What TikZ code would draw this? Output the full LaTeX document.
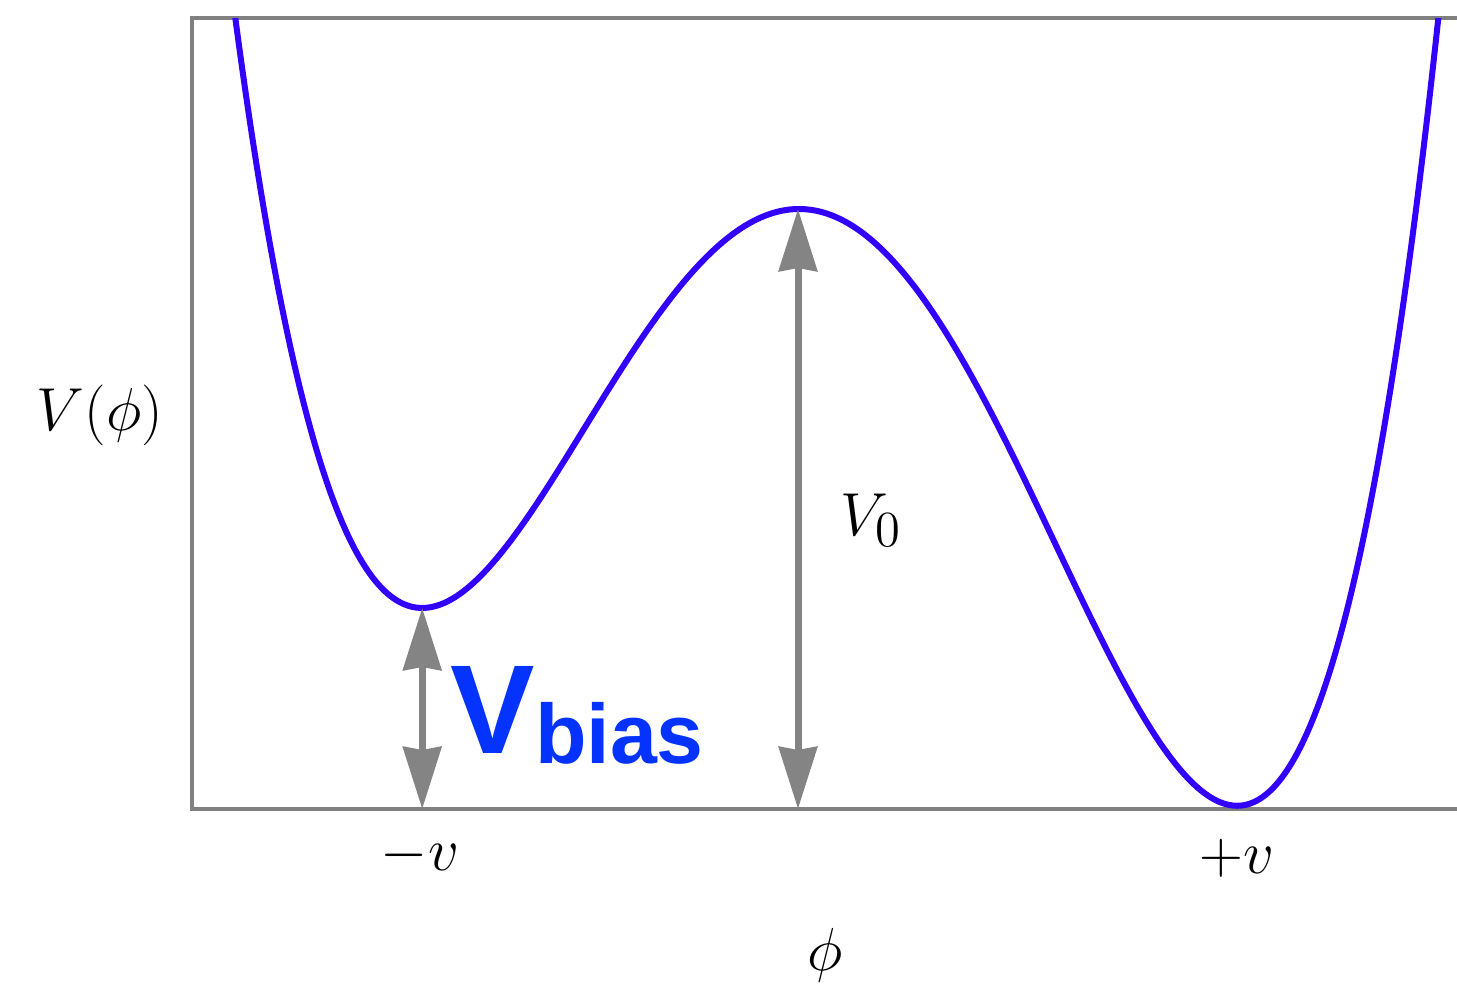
\documentclass[tikz,border=0pt]{standalone}
\usepackage{fontspec}
\newfontfamily\biasfont{Liberation Sans}
\usetikzlibrary{arrows.meta}
\definecolor{curveblue}{RGB}{50,0,255}
\definecolor{biasblue}{RGB}{4,51,255}
\definecolor{axisgray}{RGB}{128,128,128}
\definecolor{arrowgray}{RGB}{132,132,132}
\tikzset{
  axisline/.style={draw=axisgray, line width=0.045cm},
  potcurve/.style={draw=curveblue, line width=0.06cm, line join=round},
  gaparrow/.style={draw=arrowgray, line width=0.07cm,
    arrows={Stealth[length=6.2mm,width=3.8mm,inset=0.3mm]-Stealth[length=6.2mm,width=3.8mm,inset=0.3mm]}},
  mathlabel/.style={inner sep=0pt, anchor=base, font=\fontsize{19}{24}\selectfont},
  biaslabel/.style={inner sep=0pt, anchor=base west, text=biasblue, font=\biasfont\bfseries\fontsize{36}{40}\selectfont}
}
\begin{document}
\begin{tikzpicture}[x=1cm,y=1cm]
\useasboundingbox (0,0) rectangle (14.57,9.86);
% frame (open on the right)
\coordinate (tr) at (14.60,9.68);
\coordinate (tl) at (1.92,9.68);
\coordinate (bl) at (1.92,1.77);
\coordinate (br) at (14.60,1.77);
\draw[axisline] (tr) -- (tl) -- (bl) -- (br);
% potential curve
\begin{scope}
\clip (1.92,1.77) rectangle (14.57,9.68);
\draw[potcurve] plot[domain=-5.70:6.45, samples=300, smooth, variable=\u]
  ({7.99+\u},{1.77+6.00+0.071417*(0.25*\u*\u*\u*\u-0.204667*\u*\u*\u-8.2557*\u*\u)});
\end{scope}
% key points
\coordinate (lmin) at (4.222,3.78);
\coordinate (lfoot) at (4.222,1.77);
\coordinate (peak) at (7.98,7.77);
\coordinate (pfoot) at (7.98,1.77);
\draw[gaparrow] (lfoot) -- (lmin);
\draw[gaparrow] (pfoot) -- (peak);
% labels
\node[mathlabel] (vphi) at (1.00,5.56) {$V(\phi)$};
\node[mathlabel, anchor=base west] (vzero) at (8.40,4.51) {$V_0$};
\node[mathlabel] (mv) at (4.20,1.16) {$-v$};
\node[mathlabel] (pv) at (12.37,1.13) {$+v$};
\node[mathlabel] (phi) at (8.25,0.16) {$\phi$};
\node[biaslabel] (vbias) at (4.50,2.33) {V\raisebox{-0.1cm}{\fontsize{24}{26}\selectfont bias}};
\end{tikzpicture}
\end{document}
